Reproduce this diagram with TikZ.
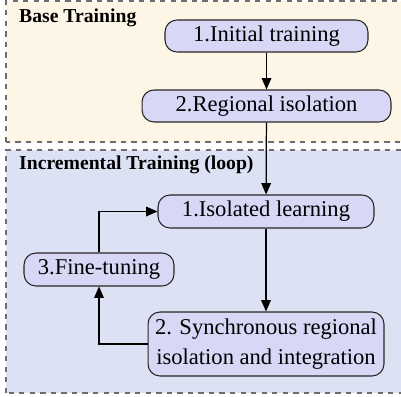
\documentclass[tikz,border=0pt]{standalone}
\usepackage{fontspec}
\setmainfont{Liberation Serif}
\usepackage{xcolor}
\usetikzlibrary{arrows.meta}
\definecolor{basebg}{HTML}{FDF6E7}
\definecolor{incbg}{HTML}{DCE1F3}
\definecolor{stagebg}{HTML}{D8D7F5}
\definecolor{framegray}{HTML}{6E6E6E}

\begin{document}
\begin{tikzpicture}[x=0.02cm,y=0.02cm,font=\fontsize{12.85}{17}\selectfont,
  stage/.style={draw=black!85,fill=stagebg,rounded corners=0.24cm,line width=0.6pt,inner sep=0pt,align=center},
  phase/.style={draw=framegray,dashed,line width=0.7pt},
  flow/.style={line width=0.7pt,-{Triangle[width=5.5pt,length=6.5pt]}}]
 \useasboundingbox (0,0) rectangle (401,396);
 \clip (0,0) rectangle (401,396);
 % panels
 \fill[basebg] (6,254) rectangle (410,395);
 \draw[phase] (6,254) rectangle (410,395);
 \fill[incbg] (6,3) rectangle (410,246);
 \draw[phase] (6,3) rectangle (410,246);
 \node[anchor=west,font=\fontsize{11.2}{13}\selectfont\bfseries] (baselbl) at (13,378) {Base Training};
 \node[anchor=west,font=\fontsize{11.2}{13}\selectfont\bfseries] (inclbl) at (13,231) {Incremental Training (loop)};
 % stages
 \node[stage,minimum width=4.06cm,minimum height=0.64cm] (init) at (266.5,360) {1.Initial training};
 \node[stage,minimum width=4.98cm,minimum height=0.64cm] (region) at (266.5,290) {2.Regional isolation};
 \node[stage,minimum width=4.32cm,minimum height=0.66cm] (iso) at (266,184.5) {1.Isolated learning};
 \node[stage,minimum width=3.0cm,minimum height=0.66cm] (fine) at (99,126.5) {3.Fine-tuning};
 \node[stage,minimum width=4.72cm,minimum height=1.28cm] (sync) at (266,52) {2. Synchronous regional\\isolation and integration};
 % flow
 \draw[flow] (init) -- (region);
 \draw[flow] (region) -- (iso);
 \draw[flow] (iso) -- (sync);
 \draw[flow] (sync.west) -| (fine.south);
 \draw[flow] (fine.north) |- (iso.west);
\end{tikzpicture}
\end{document}
